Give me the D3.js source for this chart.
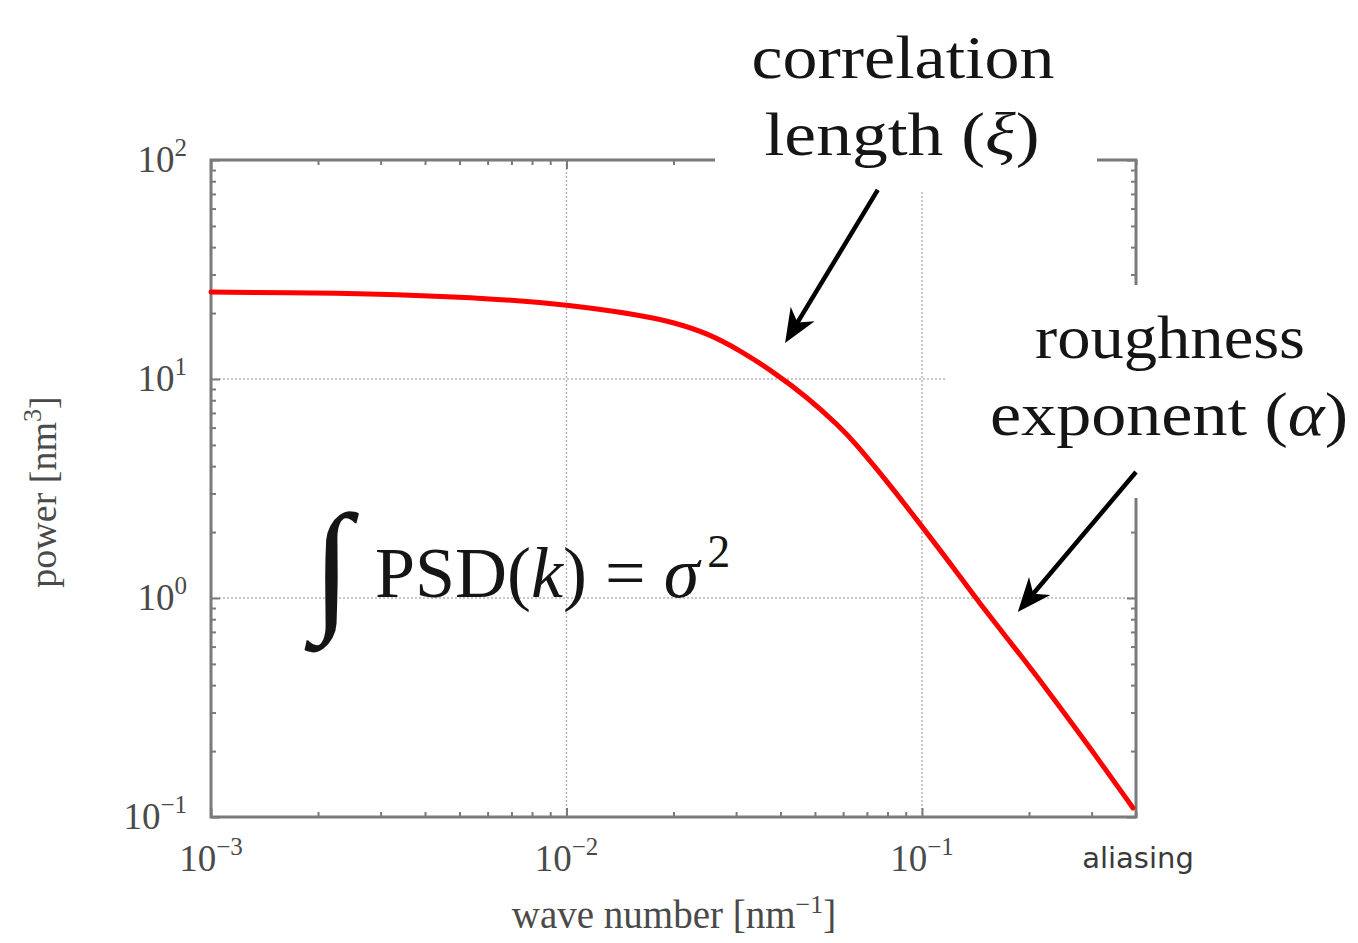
<!DOCTYPE html>
<html>
<head>
<meta charset="utf-8">
<script src="https://cdn.jsdelivr.net/npm/d3@7"></script>
<style>
  body { margin: 0; background: #fff; }
  svg { display: block; }
</style>
</head>
<body>
<div id="chart"></div>
<script>
// PSD curve (wave number in nm^-1, power in nm^3)
const waveNumber = [0.001, 0.002, 0.0032, 0.0065, 0.0101, 0.0161, 0.0199, 0.0249, 0.0308, 0.0381, 0.0475,
                    0.0588, 0.0640, 0.0797, 0.1007, 0.1223, 0.1428, 0.1923, 0.2397, 0.2970, 0.3923];
const power      = [24.96, 24.7, 24.4, 23.2, 21.8, 19.6, 18.2, 16.2, 13.5, 10.8, 8.28,
                    6.04, 5.23, 3.42, 2.09, 1.385, 0.979, 0.532, 0.332, 0.207, 0.110];

const xMajor = [1e-3, 1e-2, 1e-1];
const xMajorExp = ["\u22123", "\u22122", "\u22121"];
const yMajor = [1e-1, 1, 10, 100];
const yMajorExp = ["\u22121", "0", "1", "2"];
const xGrid = [1e-2, 1e-1];
const yGrid = [1, 10];

// annotation arrows: [start, tip] in data coordinates
const xiArrow = [[0.0751, 73], [0.0412, 14.6]];
const alphaArrow = [[0.4, 3.76], [0.186, 0.863]];

const width = 1358, height = 943;
const margin = { top: 160, right: 222, bottom: 126, left: 211 };
const serif = "'Liberation Serif', 'DejaVu Serif', serif";
const axisGrey = "#7a7a7a";
const labelGrey = "#4a4a4a";

const svg = d3.select("#chart").append("svg")
    .attr("width", width)
    .attr("height", height);

const x = d3.scaleLog()
    .domain([1e-3, 0.4])
    .range([margin.left, width - margin.right]);
const y = d3.scaleLog()
    .domain([0.1, 100])
    .range([height - margin.bottom, margin.top]);

const x0 = x.range()[0], x1 = x.range()[1];
const y0 = y.range()[0], y1 = y.range()[1];

// dotted grid
const grid = svg.append("g")
    .attr("stroke", "#b5b5b5")
    .attr("stroke-width", 1.5)
    .attr("stroke-dasharray", "2,2");
grid.selectAll(".gx").data(xGrid).enter().append("line")
    .attr("x1", d => x(d)).attr("x2", d => x(d))
    .attr("y1", y1).attr("y2", y0);
grid.selectAll(".gy").data(yGrid).enter().append("line")
    .attr("x1", x0).attr("x2", x1)
    .attr("y1", d => y(d)).attr("y2", d => y(d));

// ticks, all pointing inward
const xMinor = x.ticks().filter(d => !xMajor.some(m => Math.abs(m - d) < 1e-9));
const yMinor = y.ticks().filter(d => !yMajor.some(m => Math.abs(m - d) < 1e-9));

function tickAxis(axis, tr) {
    const g = svg.append("g").attr("transform", tr).call(axis);
    g.select(".domain").remove();
    g.selectAll("line").attr("stroke", axisGrey).attr("stroke-width", 2);
    return g;
}
[[xMinor, 5], [xMajor, 9]].forEach(([vals, len]) => {
    tickAxis(d3.axisBottom(x).tickValues(vals).tickSize(-len).tickFormat(""), `translate(0,${y0})`);
    tickAxis(d3.axisTop(x).tickValues(vals).tickSize(-len).tickFormat(""), `translate(0,${y1})`);
});
[[yMinor, 5], [yMajor, 9]].forEach(([vals, len]) => {
    tickAxis(d3.axisLeft(y).tickValues(vals).tickSize(-len).tickFormat(""), `translate(${x0},0)`);
    tickAxis(d3.axisRight(y).tickValues(vals).tickSize(-len).tickFormat(""), `translate(${x1},0)`);
});

// frame
svg.append("rect")
    .attr("x", x0).attr("y", y1)
    .attr("width", x1 - x0).attr("height", y0 - y1)
    .attr("fill", "none")
    .attr("stroke", axisGrey)
    .attr("stroke-width", 3);

// the curve
const line = d3.line()
    .x(d => x(d[0]))
    .y(d => y(d[1]))
    .curve(d3.curveBasis);
svg.append("path")
    .datum(d3.zip(waveNumber, power))
    .attr("d", line)
    .attr("fill", "none")
    .attr("stroke", "#ff0000")
    .attr("stroke-width", 5)
    .attr("stroke-linecap", "round");

// tick labels 10^n
function powerLabel(g, exp) {
    g.append("tspan").text("10");
    g.append("tspan").attr("dy", -16).attr("font-size", 25).text(exp);
}
xMajor.forEach((v, i) => {
    const t = svg.append("text")
        .attr("x", x(v)).attr("y", y0 + 54)
        .attr("text-anchor", "middle")
        .attr("font-family", serif).attr("font-size", 37)
        .attr("fill", labelGrey);
    powerLabel(t, xMajorExp[i]);
});
yMajor.forEach((v, i) => {
    const t = svg.append("text")
        .attr("x", x0 - 24).attr("y", y(v) + 12)
        .attr("text-anchor", "end")
        .attr("font-family", serif).attr("font-size", 37)
        .attr("fill", labelGrey);
    powerLabel(t, yMajorExp[i]);
});

svg.append("text")
    .attr("x", 1138).attr("y", y0 + 51)
    .attr("text-anchor", "middle")
    .attr("font-family", "'DejaVu Sans', sans-serif")
    .attr("font-size", 29)
    .attr("fill", "#3a3a3a")
    .text("aliasing");

// axis titles
const xt = svg.append("text")
    .attr("x", 674).attr("y", 928)
    .attr("text-anchor", "middle")
    .attr("font-family", serif).attr("font-size", 39)
    .attr("fill", labelGrey);
xt.append("tspan").text("wave number [nm");
xt.append("tspan").attr("dy", -15).attr("font-size", 26).text("\u22121");
xt.append("tspan").attr("dy", 15).text("]");

const yt = svg.append("text")
    .attr("transform", "translate(56,492) rotate(-90)")
    .attr("text-anchor", "middle")
    .attr("font-family", serif).attr("font-size", 38)
    .attr("fill", labelGrey);
yt.append("tspan").text("power [nm");
yt.append("tspan").attr("dy", -15).attr("font-size", 26).text("3");
yt.append("tspan").attr("dy", 15).text("]");

// white boxes behind the annotations (they cut the frame)
svg.append("rect").attr("x", 715).attr("y", 0).attr("width", 382).attr("height", 190).attr("fill", "#fff");
svg.append("rect").attr("x", 947).attr("y", 285).attr("width", 411).attr("height", 213).attr("fill", "#fff");

// annotations
const ann = svg.append("g")
    .attr("font-family", serif)
    .attr("font-size", 62)
    .attr("fill", "#151515")
    .attr("text-anchor", "middle");
ann.append("text").attr("x", 903).attr("y", 78)
    .attr("textLength", 303).attr("lengthAdjust", "spacingAndGlyphs")
    .text("correlation");
const lt = ann.append("text").attr("x", 902).attr("y", 155)
    .attr("textLength", 275).attr("lengthAdjust", "spacingAndGlyphs");
lt.append("tspan").text("length (");
lt.append("tspan").attr("font-style", "italic").text("\u03be");
lt.append("tspan").text(")");
ann.append("text").attr("x", 1170).attr("y", 358)
    .attr("textLength", 270).attr("lengthAdjust", "spacingAndGlyphs")
    .text("roughness");
const et = ann.append("text").attr("x", 1169).attr("y", 435)
    .attr("textLength", 358).attr("lengthAdjust", "spacingAndGlyphs");
et.append("tspan").text("exponent (");
et.append("tspan").attr("font-style", "italic").text("\u03b1");
et.append("tspan").text(")");

// formula
svg.append("text")
    .attr("x", 312).attr("y", 614)
    .attr("font-family", serif)
    .attr("font-style", "italic")
    .attr("font-size", 144)
    .attr("fill", "#151515")
    .text("\u222b");
const ft = svg.append("text")
    .attr("x", 375).attr("y", 597)
    .attr("font-family", serif).attr("font-size", 72)
    .attr("fill", "#151515");
ft.append("tspan").text("PSD(");
ft.append("tspan").attr("font-style", "italic").text("k");
ft.append("tspan").text(") = ");
ft.append("tspan").attr("font-style", "italic").text("\u03c3");
ft.append("tspan").attr("dx", 8).attr("dy", -30).attr("font-size", 46).text("2");

// arrows
const defs = svg.append("defs");
defs.append("marker")
    .attr("id", "head")
    .attr("markerUnits", "userSpaceOnUse")
    .attr("viewBox", "-36 -16 40 32")
    .attr("refX", 0).attr("refY", 0)
    .attr("markerWidth", 40).attr("markerHeight", 32)
    .attr("orient", "auto")
    .append("path")
    .attr("d", "M0,0 L-34,-14 L-24,0 L-34,14 Z")
    .attr("fill", "#000");

[xiArrow, alphaArrow].forEach(a => {
    const sx = x(a[0][0]), sy = y(a[0][1]);
    const tx = x(a[1][0]), ty = y(a[1][1]);
    const len = Math.hypot(tx - sx, ty - sy);
    const ux = (tx - sx) / len, uy = (ty - sy) / len;
    svg.append("line")
        .attr("x1", sx).attr("y1", sy)
        .attr("x2", tx - ux * 20).attr("y2", ty - uy * 20)
        .attr("stroke", "#000").attr("stroke-width", 4.5);
    svg.append("path")
        .attr("d", `M${tx - ux * 21},${ty - uy * 21}L${tx},${ty}`)
        .attr("stroke", "none")
        .attr("marker-end", "url(#head)");
});
</script>
</body>
</html>
